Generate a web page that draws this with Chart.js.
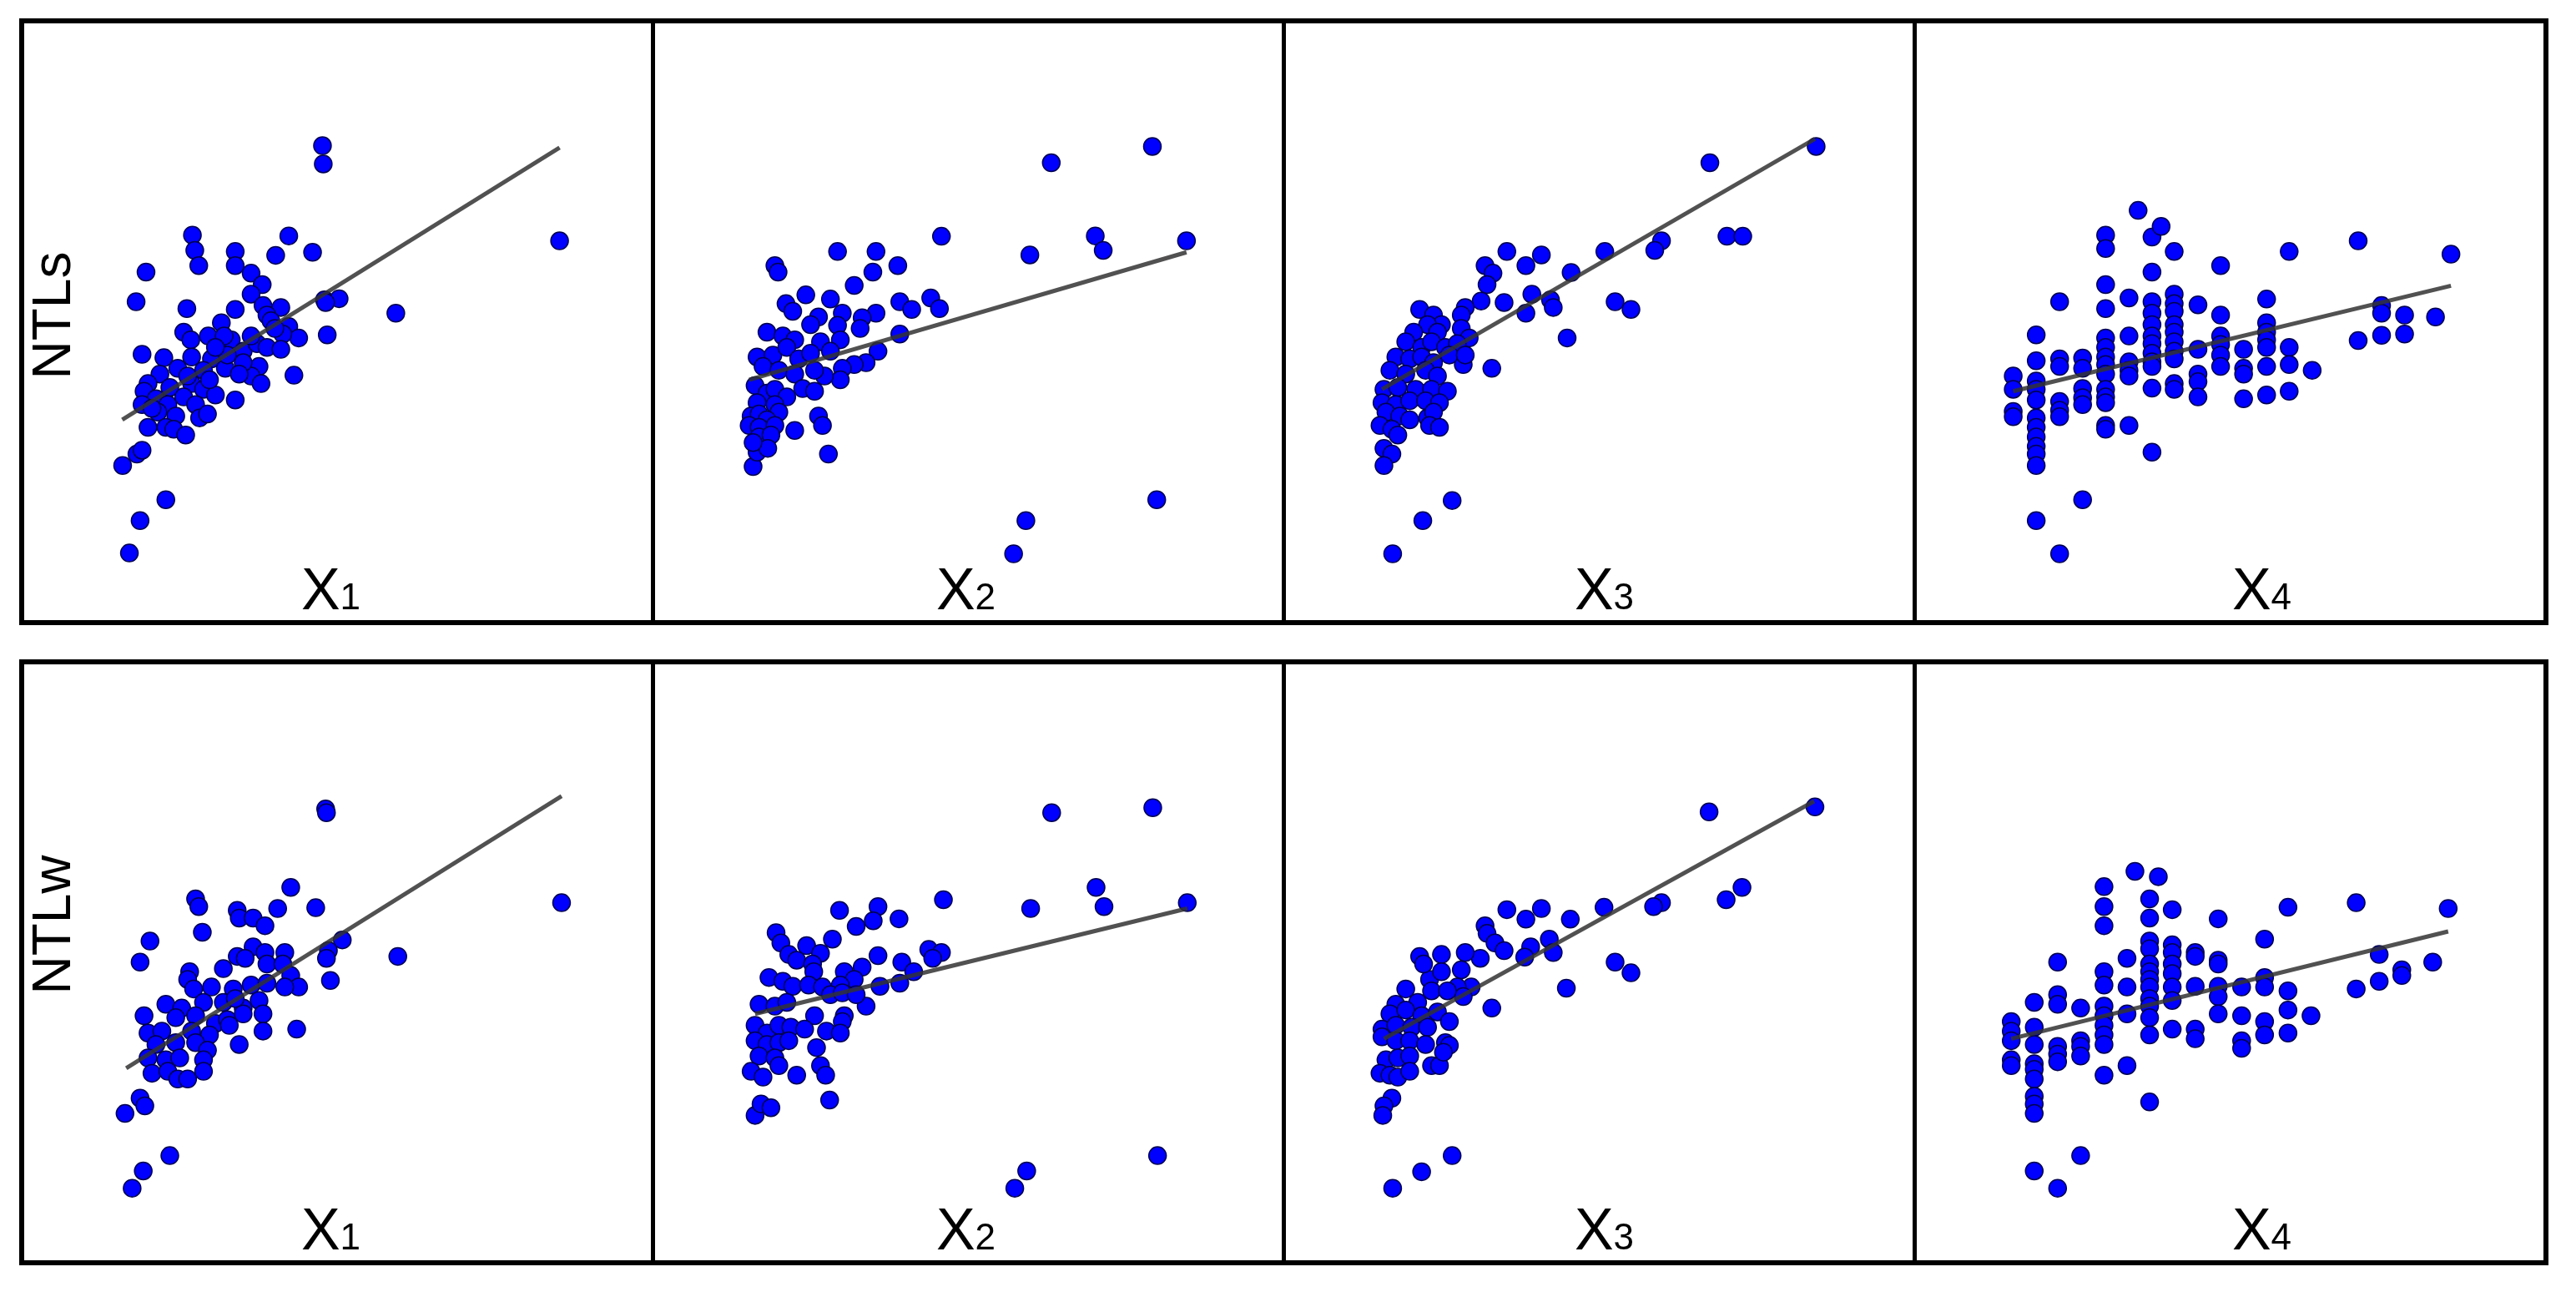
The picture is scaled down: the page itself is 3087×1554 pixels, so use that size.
<!DOCTYPE html>
<html>
<head>
<meta charset="utf-8">
<script src="https://cdn.jsdelivr.net/npm/chart.js@4/dist/chart.umd.min.js"></script>
<style>
  body { margin: 0; background: #fff; width: 3087px; height: 1554px; overflow: hidden; position: relative; }
  .row { position: absolute; left: 23px; width: 3031px; border: 6px solid #000; box-sizing: border-box; display: flex; }
  .cell { width: 751px; height: 100%; }
  .cell + .cell { border-left: 5px solid #000; }
  canvas { display: block; }
</style>
</head>
<body>
<div class="row" style="top:22px;height:727px">
  <div class="cell"><canvas id="p0" width="751" height="715"></canvas></div>
  <div class="cell"><canvas id="p1" width="751" height="715"></canvas></div>
  <div class="cell"><canvas id="p2" width="751" height="715"></canvas></div>
  <div class="cell"><canvas id="p3" width="751" height="715"></canvas></div>
</div>
<div class="row" style="top:790px;height:726px">
  <div class="cell"><canvas id="p4" width="751" height="714"></canvas></div>
  <div class="cell"><canvas id="p5" width="751" height="714"></canvas></div>
  <div class="cell"><canvas id="p6" width="751" height="714"></canvas></div>
  <div class="cell"><canvas id="p7" width="751" height="714"></canvas></div>
</div>
<script>
// row / column labels
const rowLabels = ["NTLs", "NTLw"];
const xSubs = ["1", "2", "3", "4"];

// NTLs vs X1..X4 (arbitrary units)
const ntlsX1 = [
  [73,123.5],[73.2,118.7],[132.8,98.5],[91.5,79.5],[74.2,73.8],[65.8,63.2],[22.6,39.5],[33.5,30.5],[27,25],[24.3,16.5],[26.2,42.5],[27.5,43.5],
  [40.2,100],[40.8,96],[41.8,92],[28.5,90.3],[26,82.5],[51,95.7],[51,92],[55,90],[57.8,87],[61.2,94.7],[64.5,99.8],[70.5,95.5],[55,84.5],
  [51,80.5],[38.8,80.7],[73.5,83],[77.2,83.3],[73.8,82.3],[62.5,81],[58,81.5],[59,79],[47.5,77],[64.5,76],[67,73],[63,74],[38,74.5],
  [39.8,72.5],[44.2,73.5],[50,72.5],[48.2,73.5],[27.5,68.7],[33,67.8],[40,68],[45,67.5],[53,69.5],[56.5,71.5],[59,70.5],[62.5,70],
  [36.5,65],[43,64.5],[48.5,65],[57,65.5],[55,63],[57.5,61],[32,63.5],[29,61],[28,59],[34.5,60],[40,61],[43,59.5],[46,58],[51,56.7],
  [31,57],[34,55.5],[38,57.5],[41,55.5],[31.5,53.5],[36,52.5],[42,52],[44,53],[29,49.5],[33.5,49.5],[35.5,49],[38.5,47.5],[27.5,55.5],
  [30,54.5],[53,66.5],[49,68.5],[46,70.5],[60,77.5],[55,73.5],[61,75.5],[52,63.5],[44.5,62],[39,63]
];
const ntlsX2 = [
  [123.2,123.3],[97.7,119],[70,99.7],[92.3,94.8],[108.8,99.8],[110.8,96],[131.8,98.5],[124.3,30.5],[91.3,25],[88.2,16.3],[41.5,42.5],[22.5,39.2],
  [28,92],[28.8,90.3],[43.8,95.7],[53.5,95.7],[59,92],[52.7,90.3],[48,86.8],[35.8,84.3],[42,83.2],[30.8,82],[32.5,80],[59.5,82.5],
  [62.5,80.5],[67.3,83.5],[69.5,80.7],[39,78.5],[45,79.5],[53.5,79.5],[50,78.3],[37,76.5],[43.8,76.3],[49.5,75.5],[26,74.5],[30,73.5],
  [33,72.5],[39.5,72],[44.5,72.5],[59.5,74],[54,69.5],[51,66.5],[48,66],[45,65],[44.5,62],[40.5,63],[38,64.5],[23.5,68],[27.5,68.5],
  [31,70.5],[34,67.5],[37,69],[42,69.5],[25,65.5],[29,64.5],[33,63.5],[35,59.7],[38,59],[23,60.5],[26,58.5],[28,59.5],[31,57.5],
  [23.5,56],[28,55.5],[29,53.5],[22,52.5],[24,53],[26,51.5],[21.5,50],[24,49.5],[28,50],[33,48.7],[24,47],[27,47.5],[23.5,43],
  [26.2,44],[39,52.5],[40,50],[22.5,45.5]
];
const ntlsX3 = [
  [131.5,123.3],[104.7,119],[109,99.7],[113,99.7],[92.5,98.5],[90.8,96],[78.2,95.7],[53.5,95.7],[62.2,94.8],[58.3,92],[48,92],[50,90],
  [48.5,87],[69.7,90.2],[47,82.7],[52.8,82.3],[59.8,84.5],[64.5,83],[65.2,81],[58.3,79.5],[80.8,82.5],[84.8,80.5],[68.7,73],[49.7,65],
  [42.5,66],[31.5,80.5],[35,79],[37,76.5],[43,81],[42,79],[33.5,76.5],[30,74.5],[36,74.5],[42,75.5],[44,73],[28,72],[32,70.5],[34.5,72],
  [38,70.5],[41,71.5],[25.5,68],[29,67.5],[32,68],[35,66.5],[39,68.5],[43,68.5],[24,64.5],[28,63.5],[33,64.5],[36,63],[22.5,59.5],
  [26,60],[30.5,59.5],[34.5,59.5],[38.5,59],[22,56],[25.5,55.5],[29,56.5],[33,56.5],[36.5,56],[23,53.5],[26.5,52.5],[29,51.5],
  [33.5,52],[35,53.5],[21.5,50],[24.5,49],[26,47.5],[34,50],[36.5,49.5],[22.5,44],[24.5,42.5],[22.5,39.5],[39.7,30.3],[32.3,25],[24.7,16.3]
];
const ntlsX4 = [
  [22.1,63],[22.1,59.5],[22.1,53.7],[22.1,52.3],
  [27.9,73.8],[27.9,67],[27.9,61.7],[27.9,59.5],[27.9,56.7],[27.9,52],[27.9,49.5],[27.9,47],[27.9,44.5],[27.9,42.5],[27.9,39.5],[27.9,25],
  [33.8,82.5],[33.8,67.5],[33.8,65.5],[33.8,56.3],[33.8,54],[33.8,52.3],[33.8,16.3],
  [39.6,67.7],[39.6,65],[39.6,59.7],[39.6,57.3],[39.6,55.5],[39.6,30.5],
  [45.4,100],[45.4,96.5],[45.4,87],[45.4,80.7],[45.4,73],[45.4,70.5],[45.4,68],[45.4,66],[45.4,63.5],[45.4,59.5],[45.4,57.5],[45.4,56],[45.4,50],[45.4,49],
  [51.3,83.5],[51.3,73.5],[51.3,66.7],[51.3,64.5],[51.3,63],[51.3,50],
  [53.6,106.5],
  [57.1,99.5],[57.1,90.3],[57.1,82.5],[57.1,79.5],[57.1,76.5],[57.1,73.5],[57.1,71.5],[57.1,69],[57.1,66.7],[57.1,65.5],[57.1,59.8],[57.1,43],
  [59.4,102.3],
  [62.7,95.7],[62.7,84.5],[62.7,82],[62.7,80],[62.7,76.5],[62.7,74.5],[62.7,72],[62.7,69.5],[62.7,67.5],[62.7,61],[62.7,59.5],
  [68.7,81.7],[68.7,70],[68.7,63.5],[68.7,61.5],[68.7,57.5],
  [74.4,92],[74.4,79],[74.4,73.5],[74.4,71.3],[74.4,68.5],[74.4,65.5],
  [80.2,70],[80.2,65],[80.2,63.5],[80.2,57],
  [86,83.2],[86,77],[86,74.5],[86,72.5],[86,70.5],[86,65.5],[86,58],
  [91.7,95.7],[91.7,70.5],[91.7,66],[91.7,59],
  [97.5,64.5],
  [109.1,98.5],[109.1,72.3],
  [115,81.5],[115,79.5],[115,73.7],
  [120.8,79],[120.8,74],
  [128.6,78.5],
  [132.5,95]
];

// NTLw vs X1..X4
const ntlwX1 = [
  [73.8,116.5],[74,115.5],[133.3,92],[92,78],[75,71.7],[66.5,59],[23.2,37],[27,41],[28.2,39],[34.5,26],[27.8,22],[25,17.5],
  [41,93],[41.8,91],[42.7,84.3],[29.5,82],[27,76.5],[65,96],[61.7,90.5],[71.3,90.7],[51.5,90],[52,88],[55.5,88],[58.5,86],[78,82.3],
  [74.5,79.5],[74,77.5],[55.5,80.5],[58.5,79],[63.5,79],[51.5,78],[53.5,77.5],[48,74.8],[59,76],[63,76],[39.5,74],[39,72],[40.5,69.5],
  [65,73],[67,70],[63.5,70],[45,70],[50.5,69.5],[55,70.5],[59,71],[33.5,65.5],[37.5,64.5],[43,66],[48,66],[53,64.5],[57,66.5],[28,62.5],
  [36,62],[41,62.5],[46,60.5],[49,61.5],[58,63],[29,58],[32.5,58.5],[40,58.5],[44.5,57.5],[49.5,60],[58,58.5],[31,55],[36,55.5],
  [41,55.5],[44,53.5],[52,55],[29,51.5],[33.5,51],[37,51.5],[43,51],[30,47.5],[34,48],[36.5,46],[39,46],[43,48],[53,63],[51,67]
];
const ntlwX2 = [
  [97.8,115.5],[123.3,116.8],[70.5,92.8],[92.5,90.5],[109,96],[111,91],[132,92],[124.5,26],[91.5,22],[88.5,17.5],[41.8,40.5],[23,36.5],
  [24.5,39.5],[27,38.5],[28.3,84.2],[29.5,81.5],[44.3,90],[54,91],[52.8,87.3],[59.3,87.8],[48.5,85.8],[42.5,82.5],[36,80.8],[39.5,78.8],
  [31.5,78.5],[33.5,77],[37.5,76],[37.8,74],[66.8,79.8],[70,79],[67.8,77.5],[54,78.2],[60,76.5],[63,74],[59.5,71],[45.5,74],[50,75.2],
  [48,72],[26.5,72.5],[30,71.5],[32.5,70.2],[36.5,70.5],[40,70],[44.5,70.5],[54.5,70.2],[51,65],[24,65.5],[28,65],[31,66],[38,62.5],
  [42,68],[45,68.5],[48.5,68],[45.5,62.5],[45,61],[23,60],[26,58],[29,60],[32,59.5],[35.5,59],[41,58.5],[44.5,58],[23,56],[26,55],
  [29,55.5],[31.5,56],[38.5,54.2],[24,52],[28,51.5],[22,48],[25,46.5],[29,49.5],[33.5,47],[39.5,49.5],[40.8,47]
];
const ntlwX3 = [
  [131.2,117],[104.5,115.7],[112.8,96],[108.8,92.8],[92.5,92],[90.5,91],[78,90.8],[53.5,90.2],[62.2,90.5],[58.3,87.7],[69.5,87.7],
  [48,86],[48.5,84],[50.5,81.5],[52.8,79.5],[46.8,77.5],[43,79],[37,78.5],[31.5,78],[64.2,82.5],[65.2,79],[59.5,80.5],[58,77.8],
  [80.8,76.5],[84.8,73.7],[68.5,69.7],[49.7,64.5],[42,74.5],[44.5,70],[41,70],[42.5,67.5],[28,69.5],[34,72],[37,74],[32.5,76],
  [25.5,65.5],[31,66],[34.5,69],[38.5,69],[24,63],[28,64],[32,62.5],[36,63.5],[39,61],[22,59],[25.5,60],[29.5,59.5],[33.5,59.5],
  [22,57],[25.5,56],[29,56],[33,55],[38,55.5],[39,54.8],[23,51],[26,51.5],[29,52],[34.5,49.5],[36.5,49.5],[37.5,53],[21.5,47.5],
  [24,47],[26,46.5],[29,48],[24.5,41],[22.5,39],[22.2,36.5],[39.7,26],[32,21.8],[24.7,17.5]
];
const ntlwX4 = [
  [21.6,61],[21.6,58.5],[21.6,56],[21.6,51],[21.6,49.5],
  [27.4,66],[27.4,59.5],[27.4,55],[27.4,50],[27.4,48.5],[27.4,46],[27.4,41.5],[27.4,39.5],[27.4,37],[27.4,22],
  [33.3,76.5],[33.3,68],[33.3,65.5],[33.3,54.5],[33.3,52.5],[33.3,50.5],[33.3,17.5],
  [39.1,64.5],[39.1,56],[39.1,54.5],[39.1,52],[39.1,26],
  [45,96.2],[45,91],[45,86],[45,74],[45,70.5],[45,65],[45,62.5],[45,60],[45,57.5],[45,55],[45,47],
  [50.8,77.5],[50.8,70],[50.8,63],[50.8,49.5],
  [52.8,100.2],
  [56.5,93],[56.5,88],[56.5,82],[56.5,80],[56.5,76],[56.5,74],[56.5,72],[56.5,70],[56.5,67],[56.5,65],[56.5,62],[56.5,57.5],[56.5,40],
  [58.7,98.8],
  [62.2,90.2],[62.2,81],[62.2,79],[62.2,76],[62.2,73.5],[62.2,70],[62.2,66.5],[62.2,59],
  [68,79],[68,78],[68,70.2],[68,59],[68,56.5],
  [73.8,87.8],[73.8,77],[73.8,76],[73.8,70.2],[73.8,67.5],[73.8,63],
  [79.7,70],[79.7,62.5],[79.7,56],[79.7,54],
  [85.5,82.5],[85.5,72.5],[85.5,70],[85.5,61],[85.5,57.5],
  [91.4,90.8],[91.4,69],[91.4,64],[91.4,58],
  [97.2,62.5],
  [108.6,92],[108.6,69.5],
  [114.4,78.5],[114.4,71.5],
  [120.1,74.5],[120.1,73],
  [127.9,76.5],
  [131.8,90.5]
];

// fitted lines: [x0, y0, x1, y1] per panel
const ntlsFit = [[22.5,51.5,132.8,123],[21.5,62,131.8,95.5],[22,59.5,131.2,125.3],[22.1,59,132.5,86.7]];
const ntlwFit = [[23.5,48.8,133.3,119.8],[23,63,132,90.5],[22.5,56.5,131,118.5],[21.6,56.5,131.8,84.5]];

const FONT = '"Liberation Sans", Arial, sans-serif';
const labelShift = [-8, -3, 6, 38];
const rowLabelY = [350, 312];
const yRange = [[1.5, 153], [1.3, 151.6]];

const panelLabels = {
  id: "panelLabels",
  afterDraw(chart, args, opts) {
    const { ctx, height, chartArea } = chart;
    ctx.save();
    ctx.fillStyle = "#000";
    ctx.textBaseline = "alphabetic";

    ctx.font = "70px " + FONT;
    const wX = ctx.measureText("X").width;
    ctx.font = "44px " + FONT;
    const wSub = ctx.measureText(opts.sub).width;
    const left = (chartArea.left + chartArea.right) / 2 + opts.dx - (wX + wSub) / 2;
    const base = height - 13;
    ctx.font = "70px " + FONT;
    ctx.fillText("X", left, base);
    ctx.font = "44px " + FONT;
    ctx.fillText(opts.sub, left + wX, base);

    if (opts.rowLabel) {
      ctx.font = "64px " + FONT;
      ctx.textAlign = "center";
      ctx.translate(32 + 23, opts.rowY);
      ctx.rotate(-Math.PI / 2);
      ctx.fillText(opts.rowLabel, 0, 0);
    }
    ctx.restore();
  },
};

const rows = [
  { pts: [ntlsX1, ntlsX2, ntlsX3, ntlsX4], fit: ntlsFit },
  { pts: [ntlwX1, ntlwX2, ntlwX3, ntlwX4], fit: ntlwFit },
];

rows.forEach((row, r) => {
  row.pts.forEach((pts, c) => {
    const f = row.fit[c];
    new Chart(document.getElementById("p" + (r * 4 + c)), {
      type: "scatter",
      data: {
        datasets: [
          {
            data: [{ x: f[0], y: f[1] }, { x: f[2], y: f[3] }],
            showLine: true,
            borderColor: "rgba(50,50,50,0.85)",
            borderWidth: 5,
            pointRadius: 0,
            order: 0,
          },
          {
            data: pts.map(([x, y]) => ({ x, y })),
            backgroundColor: "#0000ff",
            borderColor: "#000050",
            borderWidth: 1.5,
            pointRadius: 10.5,
            order: 1,
          },
        ],
      },
      options: {
        responsive: false,
        animation: false,
        events: [],
        layout: { padding: 0 },
        scales: {
          x: { type: "linear", display: false, min: 0.3, max: 153.3 },
          y: { type: "linear", display: false, min: yRange[r][0], max: yRange[r][1] },
        },
        plugins: {
          legend: { display: false },
          tooltip: { enabled: false },
          panelLabels: {
            sub: xSubs[c],
            dx: labelShift[c],
            rowLabel: c === 0 ? rowLabels[r] : null,
            rowY: rowLabelY[r],
          },
        },
      },
      plugins: [panelLabels],
    });
  });
});
</script>
</body>
</html>
